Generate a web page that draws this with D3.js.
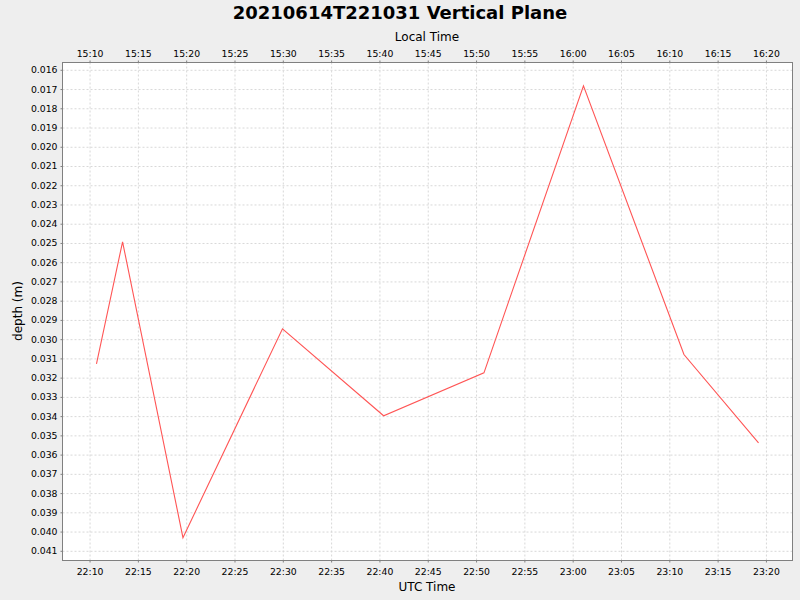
<!DOCTYPE html>
<html>
<head>
<meta charset="utf-8">
<script src="https://cdn.jsdelivr.net/npm/d3@7"></script>
<style>
  body { margin: 0; background: #eeeeee; }
  svg { display: block; font-family: "DejaVu Sans", sans-serif; }
  .axis path, .axis line { stroke: #808080; }
  .axis text { fill: #000; font-size: 9.3px; font-family: "DejaVu Sans", sans-serif; }
  .grid line { stroke: #d8d8d8; stroke-dasharray: 2,2; }
  .grid path { display: none; }
</style>
</head>
<body>
<div id="chart"></div>
<script>
const title = '20210614T221031 Vertical Plane';
const utcTimes = [
  '2021-06-14T22:10:43Z', '2021-06-14T22:13:25Z', '2021-06-14T22:19:40Z',
  '2021-06-14T22:29:58Z', '2021-06-14T22:40:26Z', '2021-06-14T22:50:49Z',
  '2021-06-14T23:01:07Z', '2021-06-14T23:11:31Z', '2021-06-14T23:19:14Z'
];
const depths = [0.03128, 0.02494, 0.04032, 0.02946, 0.03398, 0.03175, 0.01683, 0.03080, 0.03539];
const timeDomain = ['2021-06-14T22:07:12Z', '2021-06-14T23:22:45Z'];
const depthDomain = [0.015621, 0.041504];
const depthTicks = d3.range(16, 42).map((v) => v / 1000);
const localOffsetHours = -7;

const width = 800;
const height = 600;
const margin = { top: 62, right: 8, bottom: 40, left: 62 };
const plotW = width - margin.left - margin.right;
const plotH = height - margin.top - margin.bottom;

const data = utcTimes.map((t, i) => ({ time: new Date(t), depth: depths[i] }));

const x = d3.scaleUtc().domain(timeDomain.map((t) => new Date(t))).range([0, plotW]);
// local time axis is the same span shifted by the zone offset
const xLocal = d3
  .scaleUtc()
  .domain(x.domain().map((d) => d3.utcHour.offset(d, localOffsetHours)))
  .range([0, plotW]);
const y = d3.scaleLinear().domain(depthDomain).range([0, plotH]);

const svg = d3.select('#chart').append('svg').attr('width', width).attr('height', height);
svg.append('rect').attr('width', width).attr('height', height).attr('fill', '#eeeeee');

const g = svg.append('g').attr('transform', `translate(${margin.left + 0.5},${margin.top + 0.5})`);
g.append('rect').attr('width', plotW).attr('height', plotH).attr('fill', '#ffffff');

const fmt = d3.utcFormat('%H:%M');
const every5 = d3.utcMinute.every(5);

g.append('g')
  .attr('class', 'grid')
  .call(d3.axisBottom(x).ticks(every5).tickSize(plotH).tickFormat(''));
g.append('g')
  .attr('class', 'grid')
  .call(d3.axisLeft(y).tickValues(depthTicks).tickSize(-plotW).tickFormat(''));

const line = d3
  .line()
  .x((d) => x(d.time))
  .y((d) => y(d.depth));

g.append('path')
  .datum(data)
  .attr('fill', 'none')
  .attr('stroke', '#ff5555')
  .attr('stroke-width', 1.1)
  .attr('stroke-linejoin', 'miter')
  .attr('d', line);

g.append('rect')
  .attr('width', plotW)
  .attr('height', plotH)
  .attr('fill', 'none')
  .attr('stroke', '#808080');

g.append('g')
  .attr('class', 'axis')
  .attr('transform', `translate(0,${plotH})`)
  .call(d3.axisBottom(x).ticks(every5).tickFormat(fmt).tickSize(2).tickSizeOuter(0).tickPadding(5.5));

g.append('g')
  .attr('class', 'axis')
  .call(d3.axisTop(xLocal).ticks(every5).tickFormat(fmt).tickSize(2).tickSizeOuter(0).tickPadding(4));

g.append('g')
  .attr('class', 'axis')
  .call(d3.axisLeft(y).tickValues(depthTicks).tickFormat(d3.format('.3f')).tickSize(2).tickSizeOuter(0).tickPadding(3));

g.selectAll('.axis .domain').remove();

svg.append('text')
  .attr('x', width / 2)
  .attr('y', 19)
  .attr('text-anchor', 'middle')
  .attr('font-size', 18)
  .attr('font-weight', 'bold')
  .text(title);

svg.append('text')
  .attr('x', margin.left + plotW / 2)
  .attr('y', 40.5)
  .attr('text-anchor', 'middle')
  .attr('font-size', 12)
  .text('Local Time');

svg.append('text')
  .attr('x', margin.left + plotW / 2)
  .attr('y', 590.5)
  .attr('text-anchor', 'middle')
  .attr('font-size', 12)
  .text('UTC Time');

svg.append('text')
  .attr('transform', `translate(22,${margin.top + plotH / 2}) rotate(-90)`)
  .attr('text-anchor', 'middle')
  .attr('font-size', 12)
  .text('depth (m)');
</script>
</body>
</html>
